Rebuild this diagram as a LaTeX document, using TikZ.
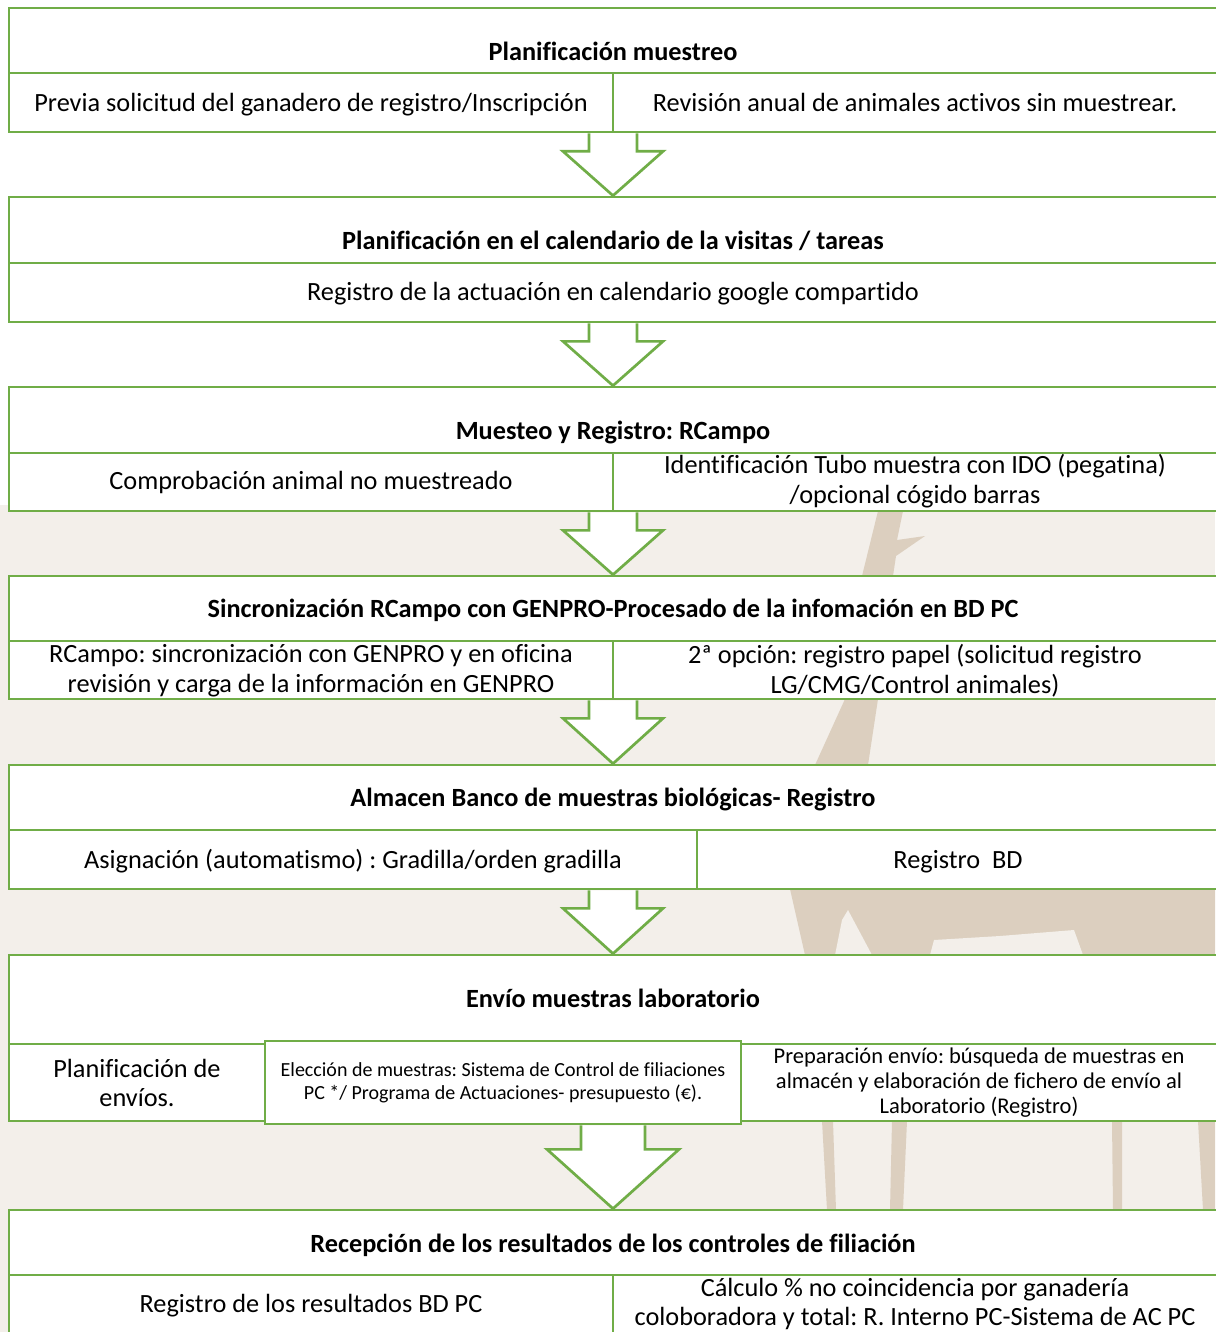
\documentclass[tikz,border=0pt]{standalone}
\usepackage{fontspec}
\setmainfont{Carlito}[Ligatures=NoCommon]
\usetikzlibrary{calc}
\frenchspacing
\definecolor{grn}{HTML}{70AD47}
\definecolor{bgl}{HTML}{F3EFEA}
\definecolor{tanc}{HTML}{DCCFBF}
\newcommand\cellbox[5]{%
  \pgfmathsetmacro\mycw{#4-#2}\pgfmathsetmacro\mych{#5-#3}%
  \pgfmathsetmacro\mycx{(#2+#4)/2}\pgfmathsetmacro\mycy{(#3+#5)/2}%
  \node[cell, minimum width=\mycw pt, minimum height=\mych pt] (#1) at (\mycx,\mycy) {};}
% from-node, to-node, half shaft, half wing, head offset
\newcommand\blockarrow[5]{%
  \path[blockarr] let \p1=(#1.south), \p2=(#2.north) in
    (613pt-#3pt,\y1) -- (613pt-#3pt,\y1-#5pt) -- (613pt-#4pt,\y1-#5pt) -- (613pt,\y2)
    -- (613pt+#4pt,\y1-#5pt) -- (613pt+#3pt,\y1-#5pt) -- (613pt+#3pt,\y1);}
\tikzset{
  cell/.style={draw=grn, line width=2.7pt, fill=white, inner sep=0pt},
  one/.style={text height=17pt, text depth=0pt},
  ttl/.style={one, font=\fontsize{26.3}{29.5}\selectfont\bfseries\frenchspacing, align=center, inner sep=0pt},
  txt/.style={font=\fontsize{26.3}{29.5}\selectfont\frenchspacing, align=center, inner sep=0pt},
  txtm/.style={font=\fontsize{22.5}{25}\selectfont\frenchspacing, align=center, inner sep=0pt},
  txts/.style={font=\fontsize{20}{23}\selectfont\frenchspacing, align=center, inner sep=0pt},
  blockarr/.style={draw=grn, line width=2.7pt, fill=white, line join=miter},
}
\begin{document}
\begin{tikzpicture}[x=1pt,y=-1pt]
\useasboundingbox (0,0) rectangle (1215,1332);
% background watermark (faded)
\fill[bgl] (0,505) rectangle (1215,1332);
\fill[tanc] (862,576) -- (878,511) -- (903,511) -- (897,540) -- (925,536) -- (896,556) -- (893,576) -- cycle;
\fill[tanc] (815,765) -- (845,699) -- (878,699) -- (868,765) -- cycle;
\fill[tanc] (790,889) -- (1215,889) -- (1215,955) -- (805,955) -- cycle;
\fill[bgl] (835,955) -- (842,920) -- (848,910) -- (872,955) -- cycle;
\fill[bgl] (930,955) -- (934,940) -- (1000,936) -- (1074,930) -- (1083,955) -- cycle;
\fill[tanc] (822,1121) -- (833,1121) -- (836,1210) -- (827,1210) -- cycle;
\fill[tanc] (892,1121) -- (907,1121) -- (903,1210) -- (890,1210) -- cycle;
\fill[tanc] (1112,1121) -- (1122,1121) -- (1122,1210) -- (1113,1210) -- cycle;
\fill[tanc] (1198,1121) -- (1215,1121) -- (1215,1210) -- (1203,1210) -- cycle;

% Block 1
\cellbox{t1}{9}{8}{1222}{73}
\cellbox{s1a}{9}{73}{613}{132}
\cellbox{s1b}{613}{73}{1222}{132}
% Block 2
\cellbox{t2}{9}{197}{1222}{263}
\cellbox{s2}{9}{263}{1222}{322}
% Block 3
\cellbox{t3}{9}{387}{1222}{453}
\cellbox{s3a}{9}{453}{613}{511}
\cellbox{s3b}{613}{453}{1222}{511}
% Block 4
\cellbox{t4}{9}{576}{1222}{641}
\cellbox{s4a}{9}{641}{613}{699}
\cellbox{s4b}{613}{641}{1222}{699}
% Block 5
\cellbox{t5}{9}{765}{1222}{830}
\cellbox{s5a}{9}{830}{697}{889}
\cellbox{s5b}{697}{830}{1222}{889}
% Block 6
\cellbox{t6}{9}{955}{1222}{1044}
\cellbox{s6a}{9}{1044}{265}{1121}
\cellbox{s6c}{741}{1044}{1222}{1121}
\cellbox{s6b}{265}{1041}{741}{1124}
% Block 7
\cellbox{t7}{9}{1210}{1222}{1275}
\cellbox{s7a}{9}{1275}{613}{1345}
\cellbox{s7b}{613}{1275}{1222}{1345}

% arrows
\blockarrow{s1a}{t2}{24}{50}{18}
\blockarrow{s2}{t3}{24}{50}{18}
\blockarrow{s3a}{t4}{24}{50}{18}
\blockarrow{s4a}{t5}{24}{50}{18}
\blockarrow{s5a}{t6}{24}{50}{18}
\blockarrow{s6b}{t7}{32}{66}{24}

% texts
\node[ttl] (l1) at (613,52) {Planificación muestreo};
\node[txt,one] (l1a) at (311,103) {Previa solicitud del ganadero de registro/Inscripción};
\node[txt,one] (l1b) at (915,103) {Revisión anual de animales activos sin muestrear.};
\node[ttl] (l2) at (613,241) {Planificación en el calendario de la visitas / tareas};
\node[txt,one] (l2a) at (613,292) {Registro de la actuación en calendario google compartido};
\node[ttl] (l3) at (613,431) {Muesteo y Registro: RCampo};
\node[txt,one] (l3a) at (311,481) {Comprobación animal no muestreado};
\node[txt] (l3b) at (915,481) {Identificación Tubo muestra con IDO (pegatina)\\/opcional cógido barras};
\node[ttl] (l4) at (613,609) {Sincronización RCampo con GENPRO-Procesado de la infomación en BD PC};
\node[txt] (l4a) at (311,670.5) {RCampo: sincronización con GENPRO y en oficina\\revisión y carga de la información en GENPRO};
\node[txt] (l4b) at (915,670.5) {2ª opción: registro papel (solicitud registro\\LG/CMG/Control animales)};
\node[ttl] (l5) at (613,798) {Almacen Banco de muestras biológicas- Registro};
\node[txt,one] (l5a) at (353,860) {Asignación (automatismo) : Gradilla/orden gradilla};
\node[txt,one] (l5b) at (958,860) {Registro\ \ BD};
\node[ttl] (l6) at (613,999) {Envío muestras laboratorio};
\node[txt] (l6a) at (137,1083) {Planificación de\\envíos.};
\node[txts] (l6b) at (503,1082.5) {Elección de muestras: Sistema de Control de filiaciones\\PC */ Programa de Actuaciones- presupuesto (€).};
\node[txtm] (l6c) at (979,1083) {Preparación envío: búsqueda de muestras en\\almacén y elaboración de fichero de envío al\\Laboratorio (Registro)};
\node[ttl] (l7) at (613,1244) {Recepción de los resultados de los controles de filiación};
\node[txt,one] (l7a) at (311,1304) {Registro de los resultados BD PC};
\node[txt] (l7b) at (915,1304) {Cálculo \% no coincidencia por ganadería\\coloboradora y total: R. Interno PC-Sistema de AC PC};
\end{tikzpicture}
\end{document}
